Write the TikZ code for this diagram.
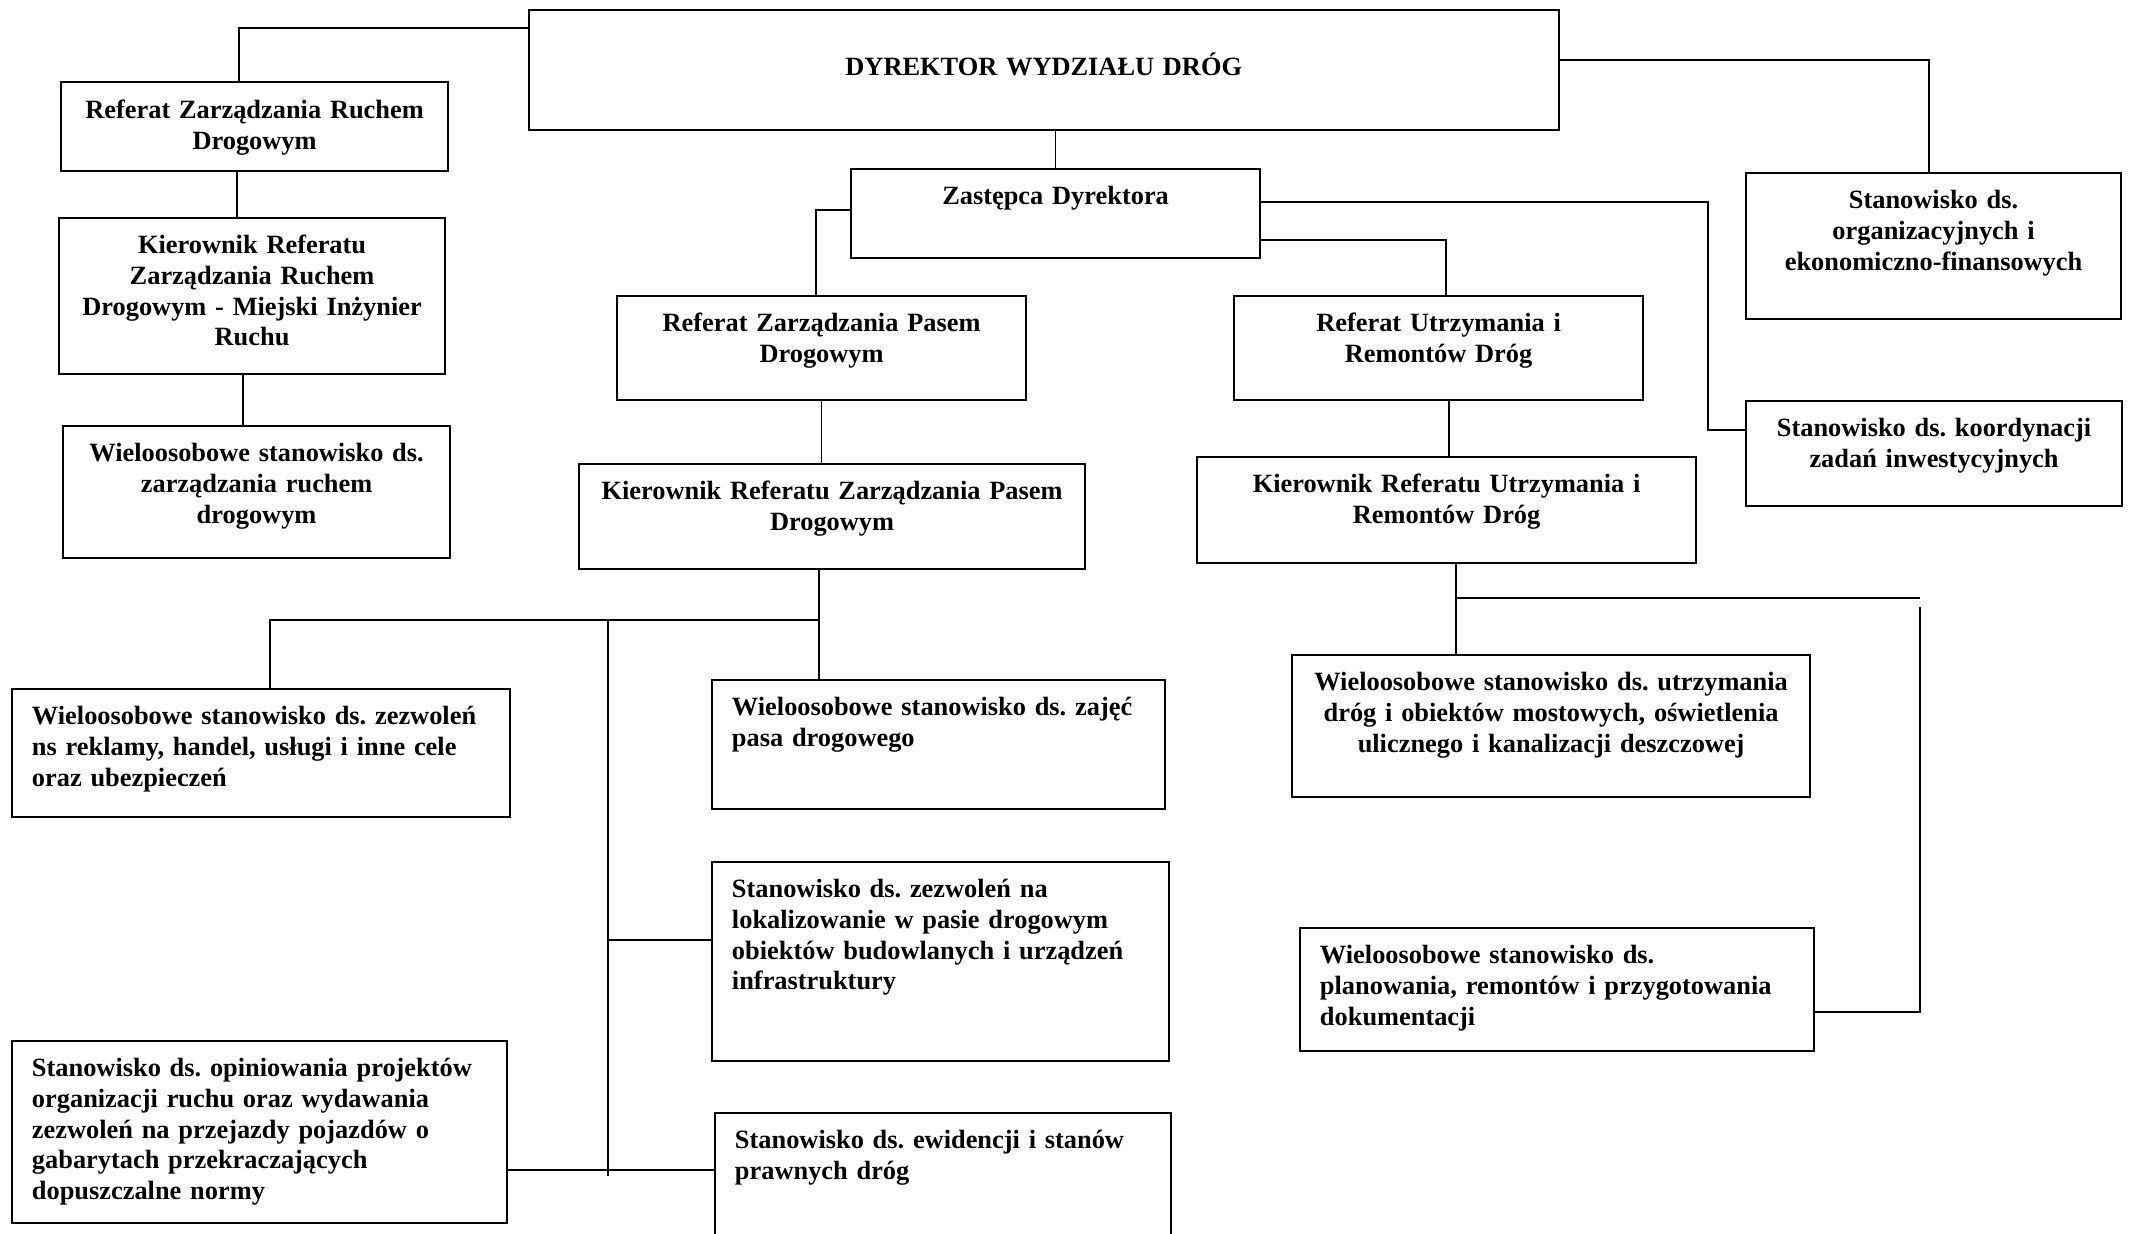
\documentclass[tikz,border=0pt]{standalone}
\usepackage{fontspec}
\setmainfont{Liberation Serif}
\newcommand{\orgfont}{\bfseries\fontsize{7.5}{8.7}\selectfont\frenchspacing}

\begin{document}
\begin{tikzpicture}[x=0.01cm, y=-0.01cm,
  unit/.style={draw, black, line width=0.55pt, rectangle, anchor=north west, inner ysep=0pt, text height=0.36cm, font=\orgfont},
  mid/.style 2 args={unit, align=center, inner xsep=0.1cm, text width=#1cm-0.2cm, text depth=#2cm-0.36cm},
  lft/.style 2 args={unit, align=left, inner xsep=0.2cm, text width=#1cm-0.4cm, text depth=#2cm-0.36cm},
  link/.style={black, line width=0.45pt}]
\useasboundingbox (0,0) rectangle (2129,1234);
\clip (0,0) rectangle (2129,1234);

\node[mid={10.29}{1.195}, text height=0.65cm, text depth=0.545cm] (dir) at (528,9.5) {DYREKTOR WYDZIAŁU DRÓG};
\node[mid={3.87}{0.885}] (refruch) at (60,81.5) {Referat Zarządzania Ruchem\\Drogowym};
\node[mid={3.86}{1.56}] (kierruch) at (58,217) {Kierownik Referatu\\Zarządzania Ruchem\\Drogowym - Miejski Inżynier\\Ruchu};
\node[mid={3.87}{1.32}] (wieruch) at (62,425) {Wieloosobowe stanowisko ds.\\zarządzania ruchem\\drogowym};
\node[mid={4.09}{0.89}] (zast) at (850,168) {Zastępca Dyrektora};
\node[mid={4.09}{1.04}] (refpas) at (616,295) {Referat Zarządzania Pasem\\Drogowym};
\node[mid={5.06}{1.05}] (kierpas) at (578,463) {Kierownik Referatu Zarządzania Pasem\\Drogowym};
\node[mid={4.09}{1.04}] (refutrz) at (1233,295) {Referat Utrzymania i\\Remontów Dróg};
\node[mid={4.99}{1.06}] (kierutrz) at (1196,456) {Kierownik Referatu Utrzymania i\\Remontów Dróg};
\node[mid={3.75}{1.46}] (org) at (1745,172) {Stanowisko ds.\\organizacyjnych i\\ekonomiczno-finansowych};
\node[mid={3.76}{1.05}] (koord) at (1745,400) {Stanowisko ds. koordynacji\\zadań inwestycyjnych};
\node[lft={4.98}{1.28}] (reklamy) at (11,688) {Wieloosobowe stanowisko ds. zezwoleń\\ns reklamy, handel, usługi i inne cele\\oraz ubezpieczeń};
\node[lft={4.53}{1.29}] (zajec) at (711,679) {Wieloosobowe stanowisko ds. zajęć\\pasa drogowego};
\node[lft={4.57}{1.99}] (lokal) at (711,861) {Stanowisko ds. zezwoleń na\\lokalizowanie w pasie drogowym\\obiektów budowlanych i urządzeń\\infrastruktury};
\node[lft={4.95}{1.82}] (opin) at (11,1040) {Stanowisko ds. opiniowania projektów\\organizacji ruchu oraz wydawania\\zezwoleń na przejazdy pojazdów o\\gabarytach przekraczających\\dopuszczalne normy};
\node[lft={4.56}{1.40}] (ewid) at (714,1112) {Stanowisko ds. ewidencji i stanów\\prawnych dróg};
\node[mid={5.18}{1.42}] (utrzd) at (1291,654) {Wieloosobowe stanowisko ds. utrzymania\\dróg i obiektów mostowych, oświetlenia\\ulicznego i kanalizacji deszczowej};
\node[lft={5.14}{1.23}] (plan) at (1299,927) {Wieloosobowe stanowisko ds.\\planowania, remontów i przygotowania\\dokumentacji};

% bends and line positions
\coordinate (tl) at (239,28);
\coordinate (x2) at (237,0);
\coordinate (x3) at (243,0);
\coordinate (x5) at (816,210);
\coordinate (x7) at (1708,202);
\coordinate (k7) at (1708,430);
\coordinate (x8) at (1446,240);
\coordinate (x9) at (1449,0);
\coordinate (x10) at (1929,60);
\coordinate (j11) at (819,620);
\coordinate (x11) at (270,620);
\coordinate (bus) at (608,620);
\coordinate (busend) at (608,1176);
\coordinate (b1) at (608,940);
\coordinate (b2) at (608,1170);
\coordinate (j13) at (1456,598);
\coordinate (r13) at (1920,598);
\coordinate (r13b) at (1920,607);
\coordinate (p13) at (1920,1012);

\draw[link] (dir.west |- tl) -- (tl) -- (tl |- refruch.north);
\draw[link] (refruch.south -| x2) -- (kierruch.north -| x2);
\draw[link] (kierruch.south -| x3) -- (wieruch.north -| x3);
\draw[link] (zast.north |- dir.south) -- (zast.north);
\draw[link] (zast.west |- x5) -- (x5) -- (x5 |- refpas.north);
\draw[link] (refpas.south) -- (refpas.south |- kierpas.north);
\draw[link] (zast.east |- x7) -- (x7) -- (k7) -- (koord.west |- k7);
\draw[link] (zast.east |- x8) -- (x8) -- (x8 |- refutrz.north);
\draw[link] (refutrz.south -| x9) -- (kierutrz.north -| x9);
\draw[link] (dir.east |- x10) -- (x10) -- (x10 |- org.north);
\draw[link] (kierpas.south -| j11) -- (j11 |- zajec.north);
\draw[link] (j11) -- (x11) -- (x11 |- reklamy.north);
\draw[link] (bus) -- (busend);
\draw[link] (b1) -- (b1 -| lokal.west);
\draw[link] (opin.east |- b2) -- (ewid.west |- b2);
\draw[link] (kierutrz.south -| j13) -- (j13 |- utrzd.north);
\draw[link] (j13) -- (r13);
\draw[link] (r13b) -- (p13) -- (plan.east |- p13);
\end{tikzpicture}
\end{document}
